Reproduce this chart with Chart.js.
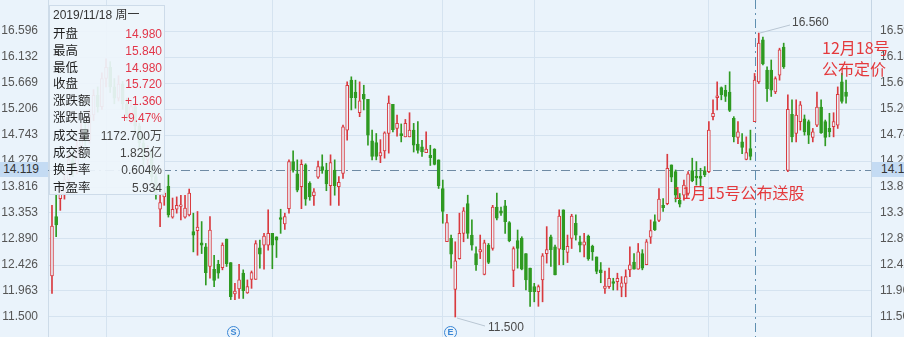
<!DOCTYPE html>
<html><head><meta charset="utf-8">
<script src="https://cdn.jsdelivr.net/npm/chart.js@4.4.1/dist/chart.umd.min.js"></script>
<style>
html,body{margin:0;padding:0;background:#eaf3fb;overflow:hidden}
#wrap{position:relative;width:904px;height:337px;overflow:hidden;background:#eaf3fb}
canvas{position:absolute;left:0;top:0}
#info{position:absolute;left:49px;top:5px;width:116px;height:190px;background:rgba(237,244,251,0.93);border:1px solid #cddbe9;box-sizing:border-box}
.row{position:absolute;left:3px;right:2px;height:17px;line-height:17px;font-size:12.5px;color:#1e1e1e;font-family:"Liberation Sans",Arial,"Noto Sans CJK SC",sans-serif;white-space:nowrap}
.row .v{position:absolute;right:0;top:0;font-size:12px;color:#444}
.row .v.r{color:#e2374a}
.ann{position:absolute;white-space:nowrap;font-family:"Noto Sans CJK SC",sans-serif;font-size:16px;line-height:16px;color:#e4393c}
.hl{position:absolute;height:15px;line-height:15px;background:#c4dbf3;font-family:"Liberation Sans",Arial,sans-serif;font-size:12px;color:#333}
.ico{position:absolute;width:11px;height:11px;border:1.5px solid #3a86d4;border-radius:50%;color:#3a86d4;font:bold 9px/11px "Liberation Sans",Arial,sans-serif;text-align:center}
.lbl{position:absolute;font-family:"Liberation Sans",Arial,sans-serif;font-size:12px;color:#4a4a4a;white-space:nowrap}
</style>
</head><body>
<div id="wrap">
<canvas id="c" width="904" height="337"></canvas>
<div id="info"></div>
<div class="ann" style="left:822px;top:39px">12月18号</div>
<div class="ann" style="left:822px;top:60px">公布定价</div>
<div class="ann" style="left:673px;top:184px">11月15号公布送股</div>
<div class="lbl" style="left:792px;top:15px">16.560</div>
<div class="lbl" style="left:488px;top:320px">11.500</div>
<div class="hl" style="left:0;top:162px;width:48px;text-align:right"><span style="padding-right:9px">14.119</span></div>
<div class="hl" style="left:872px;top:162px;width:40px;padding-left:9px">14.119</div>
<div class="ico" style="left:227px;top:326px">S</div>
<div class="ico" style="left:444px;top:326px">E</div>
</div>
<script>
// ---- data ----
const openP = [12.23,13.29,13.61,
13.70,13.95,14.30,14.10,14.55,14.85,14.65,15.10,15.45,15.25,15.75,15.95,15.60,15.40,15.65,15.30,15.10,15.25,14.90,14.60,14.30,14.45,14.00,
13.42,13.64,13.83,13.28,13.42,13.47,13.28,13.32,13.02,13.04,12.82,12.75,12.40,12.35,12.44,12.38,12.89,12.47,11.91,12.00,12.28,11.93,12.17,12.17,
12.73,12.78,12.78,12.99,12.93,13.27,13.16,13.43,14.27,14.05,13.82,14.21,13.88,13.66,13.99,14.18,14.12,13.84,14.12,13.82,14.06,14.83,15.72,15.51,
15.14,15.47,15.38,14.64,14.61,14.37,14.46,14.77,15.29,14.86,14.77,14.71,14.71,14.83,14.58,14.53,14.43,14.38,14.49,14.30,13.79,12.84,12.90,11.99,
12.54,12.99,13.52,12.96,12.63,12.66,12.26,12.78,12.72,13.46,13.39,13.48,13.18,12.33,12.86,12.90,12.63,12.37,12.04,11.95,12.16,12.63,12.93,12.75,
12.71,13.41,12.65,12.90,13.17,12.84,12.78,12.94,12.76,12.57,12.34,12.01,12.04,12.13,12.13,12.03,12.10,12.34,12.48,12.35,12.63,12.43,12.92,13.20,
13.22,13.49,13.52,14.21,14.09,13.58,13.67,13.70,14.11,14.01,14.01,14.11,14.09,15.07,15.41,15.59,15.54,15.51,15.04,14.70,14.62,14.31,14.50,14.98,
15.69,16.44,15.90,15.90,15.51,15.81,16.31,14.11,15.11,14.77,14.98,15.03,14.98,14.70,14.92,15.24,14.98,14.86,14.89,14.92,15.69,15.51];
const highP = [13.49,13.70,13.85,
14.05,14.40,14.45,14.65,14.95,14.95,15.20,15.55,15.60,15.85,16.10,16.05,15.75,15.80,15.70,15.40,15.35,15.30,14.95,14.70,14.55,14.50,14.05,
13.67,13.73,14.03,13.62,13.64,13.67,13.67,13.78,13.35,13.38,13.20,12.81,13.29,12.60,12.51,12.82,12.89,12.47,12.10,12.44,12.34,12.16,12.32,12.86,
12.87,12.99,13.41,12.99,12.93,13.42,13.35,14.30,14.46,14.30,14.30,14.23,13.91,13.79,14.28,14.39,14.24,14.39,14.30,14.00,14.92,15.69,15.78,15.72,
15.69,15.63,15.38,14.83,14.77,14.66,14.80,15.44,15.29,15.10,14.94,15.02,15.14,14.95,14.98,14.65,14.80,14.56,14.50,14.30,13.94,13.33,12.96,12.84,
13.35,13.45,13.67,13.23,12.75,12.96,12.87,12.81,13.49,13.71,13.46,13.58,13.20,12.75,13.05,12.93,12.63,12.37,12.10,12.07,12.63,13.11,12.96,12.78,
13.41,13.41,12.96,13.33,13.32,12.94,12.99,12.96,12.78,12.57,12.47,12.32,12.37,12.19,12.28,12.22,12.34,12.75,12.63,12.81,12.70,12.88,13.23,13.32,
13.79,13.61,14.40,14.21,14.12,13.70,13.94,14.09,14.33,14.27,14.15,14.18,14.98,15.37,15.69,15.60,15.63,15.87,15.07,14.98,14.77,14.71,14.83,15.84,
16.56,16.49,15.96,16.08,15.78,16.29,16.38,15.46,15.37,15.37,15.34,15.10,15.01,14.86,15.51,15.37,15.01,15.13,15.14,15.60,15.84,15.72];
const lowP = [11.92,12.93,13.40,
13.60,13.90,14.00,14.05,14.45,14.55,14.60,15.00,15.15,15.20,15.60,15.50,15.30,15.35,15.20,15.00,14.95,14.80,14.50,14.20,14.15,13.90,13.60,
13.11,13.49,13.28,13.26,13.35,13.23,13.26,13.30,12.66,12.60,12.63,12.07,12.19,12.04,12.19,12.34,12.40,11.81,11.81,11.83,11.83,11.92,12.01,12.17,
12.37,12.35,12.69,12.36,12.56,12.99,13.06,13.35,14.08,13.73,13.43,13.49,13.58,13.49,13.97,14.06,13.75,13.49,13.67,13.49,13.97,14.65,15.19,15.22,
15.07,15.19,14.56,14.30,14.30,14.25,14.33,14.42,14.80,14.72,14.62,14.71,14.71,14.44,14.42,14.36,14.43,14.20,14.21,13.79,13.17,12.84,12.37,11.50,
12.53,12.84,12.90,12.69,12.33,12.54,12.25,12.45,12.69,13.23,13.31,12.99,12.84,12.04,12.37,12.34,11.98,11.69,11.77,11.69,11.77,12.46,12.40,12.25,
12.43,12.43,12.47,12.72,12.87,12.66,12.57,12.51,12.51,12.27,12.11,11.92,12.01,11.98,11.98,11.86,11.86,12.22,12.35,12.35,12.34,12.43,12.81,13.04,
13.20,13.38,13.50,13.91,13.55,13.46,13.58,13.67,13.91,13.85,13.82,14.00,14.07,15.01,15.19,15.37,15.34,15.16,14.62,14.59,14.41,14.30,14.30,14.98,
15.66,15.99,15.34,15.43,15.48,15.72,15.93,14.09,14.62,14.62,14.83,14.74,14.59,14.62,14.89,14.77,14.55,14.71,14.71,14.86,15.31,15.31];
const closeP = [13.12,13.14,13.75,
13.95,14.30,14.10,14.55,14.85,14.65,15.10,15.45,15.25,15.75,15.95,15.60,15.40,15.65,15.30,15.10,15.25,14.90,14.60,14.30,14.45,14.00,13.70,
13.54,13.71,13.32,13.42,13.49,13.50,13.44,13.71,12.96,13.10,12.78,12.29,13.05,12.15,12.28,12.78,12.45,11.86,11.96,12.16,11.97,12.04,12.29,12.81,
12.62,12.94,12.99,12.78,12.87,13.24,13.29,14.27,14.11,13.76,14.22,13.60,13.64,13.73,14.18,14.11,13.87,14.25,13.84,13.90,14.89,15.63,15.41,15.41,
15.35,15.38,14.74,14.36,14.36,14.43,14.78,15.31,14.84,14.95,14.73,14.95,14.83,14.56,14.47,14.44,14.49,14.34,14.22,13.84,13.38,13.18,12.62,12.50,
12.99,13.39,12.99,12.78,12.43,12.70,12.82,12.47,13.46,13.26,13.35,13.20,12.86,12.72,12.72,12.35,12.16,11.95,11.95,12.04,12.59,12.70,12.70,12.25,
13.30,12.70,12.76,13.30,12.96,12.78,12.84,12.54,12.66,12.31,12.29,12.05,12.19,12.10,12.19,12.11,12.22,12.43,12.35,12.66,12.37,12.84,13.04,13.05,
13.60,13.45,14.15,13.99,13.67,13.51,13.85,14.05,13.93,13.98,13.97,14.03,14.83,15.13,15.44,15.46,15.43,15.18,14.71,14.80,14.52,14.43,14.36,15.72,
16.38,16.01,15.57,15.54,15.75,16.26,15.96,15.20,14.71,15.10,15.28,14.80,14.74,14.80,15.24,14.78,14.70,14.80,14.98,15.47,15.34,15.43];
const tickVals = [16.596,16.132,15.669,15.206,14.743,14.279,13.816,13.353,12.890,12.426,11.963,11.500];
const tickLabels = ['16.596','16.132','15.669','15.206','14.743','14.279','13.816','13.353','12.890','12.426','11.963','11.500'];
const monthLines = [13,53,94,116,158];
const crossIndex = 169, crossPrice = 14.119;
const infoHeader = '2019/11/18 周一';
const infoLabels = ['开盘','最高','最低','收盘','涨跌额','涨跌幅','成交量','成交额','换手率','市盈率'];
const infoValues = ['14.980','15.840','14.980','15.720','+1.360','+9.47%','1172.700万','1.825亿','0.604%','5.934'];

// ---- info box ----
const info = document.getElementById('info');
const rowTops = [0.5,19.5,36.5,53.5,70,86.5,103.5,121.5,138.5,155.5,173.5];
let h = `<div class="row" style="top:${rowTops[0]}px;font-size:12px;color:#333">${infoHeader}</div>`;
infoLabels.forEach((l,i)=>{
  h += `<div class="row" style="top:${rowTops[i+1]}px">${l}<span class="v${i<6?' r':''}">${infoValues[i]}</span></div>`;
});
info.innerHTML = h;

// ---- chart ----
const RED='#d93a3f', GREEN='#2f9a22', BG='#eaf3fb';
const idx = openP.map((_,i)=>i);
const up = idx.map(i=>closeP[i]>=openP[i]);
const yMin = 11.143, yMax = 17.149;
const FONT = {family:'"Liberation Sans", Arial, sans-serif', size:12};
const fitY = w => s => { s.width = w; s.paddingTop = 0; s.paddingBottom = 0; };

const overlay = {
  id:'overlay',
  beforeDatasetsDraw(ch){
    const c=ch.ctx, a=ch.chartArea;
    const yy=Math.round(ch.scales.y.getPixelForValue(crossPrice))+0.5;
    const xx=Math.round(ch.scales.x.getPixelForValue(crossIndex))+0.5;
    c.save();
    c.lineWidth=1; c.setLineDash([9,4,2,4]);
    c.strokeStyle='#6f8ba4';
    c.beginPath(); c.moveTo(a.left,yy); c.lineTo(a.right,yy); c.stroke();
    c.strokeStyle='#5f8fb0';
    c.beginPath(); c.moveTo(xx,0); c.lineTo(xx,337); c.stroke();
    c.restore();
  },
  afterDraw(ch){
    const c=ch.ctx;
    c.save();
    c.strokeStyle='#b9c6d3'; c.lineWidth=1;
    c.beginPath(); c.moveTo(760,33); c.lineTo(790,25); c.stroke();
    c.beginPath(); c.moveTo(457,318); c.lineTo(485,326); c.stroke();
    c.restore();
  }
};

new Chart(document.getElementById('c'), {
  type:'bar',
  data:{datasets:[
    {label:'body', data:idx.map(i=>({x:i,y:[openP[i],closeP[i]]})),
     backgroundColor:idx.map(i=>up[i]?BG:GREEN), borderColor:idx.map(i=>up[i]?RED:GREEN),
     borderWidth:1, borderSkipped:false, barThickness:3, grouped:false, order:0},
    {label:'wick', data:idx.map(i=>({x:i,y:[lowP[i],highP[i]]})),
     backgroundColor:idx.map(i=>up[i]?RED:GREEN), borderWidth:0, barThickness:1, grouped:false, order:1}
  ]},
  options:{
    responsive:false, animation:false, devicePixelRatio:1,
    layout:{padding:0},
    plugins:{legend:{display:false}, tooltip:{enabled:false}},
    scales:{
      x:{type:'linear', min:-0.96, max:197.0, offset:false,
         grid:{color:'#d5e3f0', drawTicks:false, offset:false}, border:{display:false},
         ticks:{display:false, autoSkip:false},
         afterBuildTicks:s=>{s.ticks=monthLines.map(v=>({value:v}));},
         afterFit:s=>{s.height=0; s.paddingLeft=0; s.paddingRight=0;}},
      y:{position:'left', min:yMin, max:yMax,
         grid:{color:'#d5e3f0', drawTicks:false}, border:{display:true,color:'#cddbe8'},
         ticks:{color:'#555', font:FONT, padding:10, autoSkip:false,
                callback:v=>{const k=tickVals.indexOf(v);return k>=0?tickLabels[k]:'';}},
         afterBuildTicks:s=>{s.ticks=tickVals.map(v=>({value:v}));},
         afterFit:fitY(48)},
      y2:{position:'right', min:yMin, max:yMax,
         grid:{display:false, drawTicks:false}, border:{display:true,color:'#c5d5e4'},
         ticks:{color:'#555', font:FONT, padding:9, autoSkip:false,
                callback:v=>{const k=tickVals.indexOf(v);return k>=0?tickLabels[k]:'';}},
         afterBuildTicks:s=>{s.ticks=tickVals.map(v=>({value:v}));},
         afterFit:fitY(33)}
    }
  },
  plugins:[overlay]
});
</script>
</body></html>
